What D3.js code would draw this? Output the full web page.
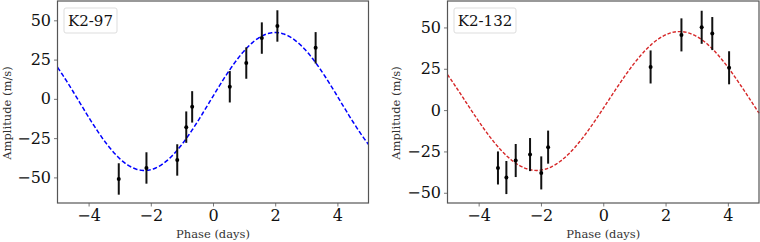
<!DOCTYPE html>
<html>
<head>
<meta charset="utf-8">
<script src="https://cdn.jsdelivr.net/npm/d3@7"></script>
<style>
  body { margin: 0; background: #fff; }
  svg { display: block; font-family: 'DejaVu Serif', serif; }
</style>
</head>
<body>
<div id="chart"></div>
<script>
// K2-97 radial velocity points (phase in days, amplitude in m/s)
let phase97 = [-3.03, -2.14, -1.15, -0.86, -0.67, 0.54, 1.07, 1.57, 2.07, 3.30]
let rv97 = [-51.0, -44.0, -38.9, -18.0, -5.1, 7.7, 22.8, 38.7, 46.4, 32.5]
let err97 = [10, 10, 10, 10, 10, 10, 10, 10, 10, 10]

// K2-132 radial velocity points
let phase132 = [-3.38, -3.11, -2.81, -2.35, -1.99, -1.77, 1.52, 2.51, 3.16, 3.50, 4.04]
let rv132 = [-35.0, -40.8, -30.5, -26.9, -38.0, -22.4, 26.1, 45.5, 50.1, 46.3, 25.6]
let err132 = [10, 10, 10, 10, 10, 10, 10, 10, 10, 10, 10]

// fitted sinusoid: [semi-amplitude K, period P, phase of peak, offset]
let fit97 = [43.9, 8.406, 2.0, -1.7]
let fit132 = [42.0, 9.175, 2.45, 5.5]

let xTicks = [-4, -2, 0, 2, 4]
let yTicks = [-50, -25, 0, 25, 50]

let width = 760
let height = 242

let svg = d3
  .select('#chart')
  .append('svg')
  .attr('width', width)
  .attr('height', height)

function drawPanel(opts) {
  let x = d3.scaleLinear().domain([-5, 5]).range([opts.left, opts.right])
  let y = d3.scaleLinear().domain(opts.yDomain).range([203, 1])

  let g = svg.append('g')

  // model curve
  let [K, P, tPeak, off] = opts.fit
  let xs = d3.range(-5, 5.001, 0.02)
  let line = d3.line()
    .x(d => x(d))
    .y(d => y(off + K * Math.cos(2 * Math.PI * (d - tPeak) / P)))

  g.append('path')
    .datum(xs)
    .attr('d', line)
    .attr('fill', 'none')
    .attr('stroke', opts.color)
    .attr('stroke-width', opts.lineWidth)
    .attr('stroke-dasharray', opts.dash)

  let pts = opts.phase.map((p, i) => ({ p: p, v: opts.rv[i], e: opts.err[i] }))

  g.selectAll('.errbar')
    .data(pts)
    .enter()
    .append('line')
    .attr('x1', d => x(d.p))
    .attr('x2', d => x(d.p))
    .attr('y1', d => y(d.v - d.e))
    .attr('y2', d => y(d.v + d.e))
    .attr('stroke', '#111')
    .attr('stroke-width', 2)

  g.selectAll('.pt')
    .data(pts)
    .enter()
    .append('circle')
    .attr('cx', d => x(d.p))
    .attr('cy', d => y(d.v))
    .attr('r', 2)
    .attr('fill', '#000')

  // axes
  let xAxis = g.append('g')
    .attr('transform', 'translate(0,203)')
    .call(d3.axisBottom(x).tickValues(xTicks).tickSize(3.5).tickPadding(3).tickFormat(d => d < 0 ? '\u2212' + Math.abs(d) : d))
  let yAxis = g.append('g')
    .attr('transform', 'translate(' + opts.left + ',0)')
    .call(d3.axisLeft(y).tickValues(yTicks).tickSize(3.5).tickPadding(3).tickFormat(d => d < 0 ? '\u2212' + Math.abs(d) : d))

  ;[xAxis, yAxis].forEach(a => {
    a.select('.domain').remove()
    a.selectAll('line').attr('stroke', '#555').attr('stroke-width', 0.8)
    a.selectAll('text')
      .attr('fill', '#111')
      .style('font-family', "'DejaVu Serif', serif")
      .style('font-size', '16px')
  })

  // frame
  g.append('rect')
    .attr('x', opts.left)
    .attr('y', 1)
    .attr('width', opts.right - opts.left)
    .attr('height', 202)
    .attr('fill', 'none')
    .attr('stroke', '#555')
    .attr('stroke-width', 1.2)

  // legend box
  g.append('rect')
    .attr('x', opts.left + 6.5)
    .attr('y', 8)
    .attr('width', opts.legendW)
    .attr('height', 25)
    .attr('rx', 2)
    .attr('fill', '#fff')
    .attr('stroke', '#ddd')
    .attr('stroke-width', 1)

  g.append('text')
    .attr('x', opts.left + 6.5 + opts.legendW / 2)
    .attr('y', 26)
    .attr('text-anchor', 'middle')
    .attr('fill', '#111')
    .style('font-size', '15px')
    .text(opts.name)

  // axis labels
  g.append('text')
    .attr('x', (opts.left + opts.right) / 2)
    .attr('y', 238)
    .attr('text-anchor', 'middle')
    .attr('fill', '#333')
    .style('font-size', '11.5px')
    .text('Phase (days)')

  g.append('text')
    .attr('transform', 'translate(' + opts.yLabelX + ',113) rotate(-90)')
    .attr('text-anchor', 'middle')
    .attr('fill', '#333')
    .style('font-size', '11.5px')
    .text('Amplitude (m/s)')
}

drawPanel({
  name: 'K2-97',
  left: 57.5,
  right: 368.5,
  yDomain: [-66.3, 62.3],
  phase: phase97,
  rv: rv97,
  err: err97,
  fit: fit97,
  color: '#0000ff',
  dash: '4.5,2.2',
  lineWidth: 1.5,
  legendW: 53,
  yLabelX: 10.5
})

drawPanel({
  name: 'K2-132',
  left: 447.5,
  right: 759,
  yDomain: [-56.2, 66],
  phase: phase132,
  rv: rv132,
  err: err132,
  fit: fit132,
  color: '#d62728',
  dash: '3.5,1.8',
  lineWidth: 1.4,
  legendW: 62,
  yLabelX: 399.5
})
</script>
</body>
</html>
